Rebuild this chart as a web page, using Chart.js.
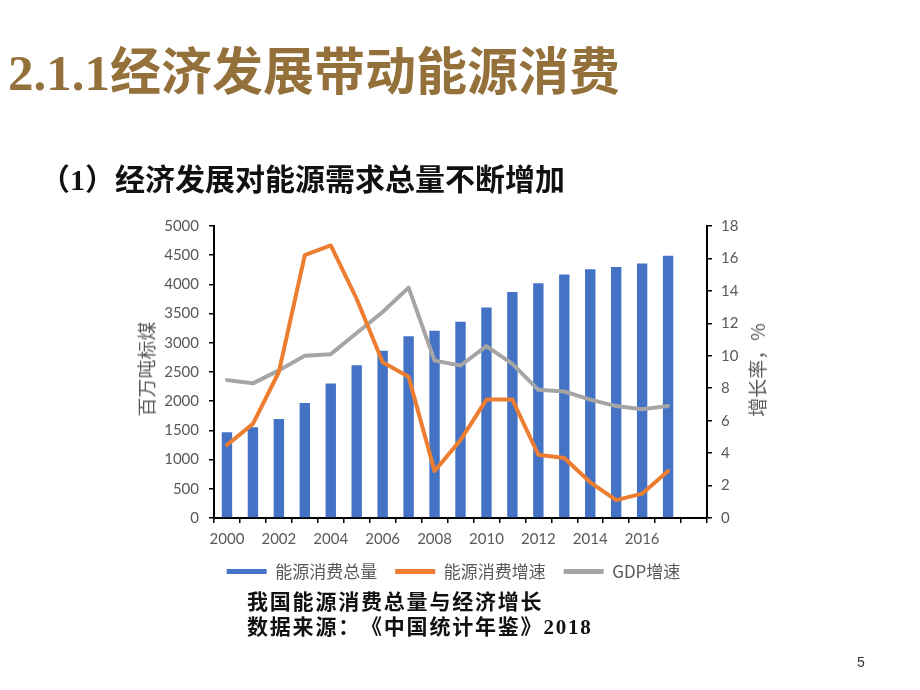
<!DOCTYPE html>
<html>
<head>
<meta charset="utf-8">
<script src="https://cdn.jsdelivr.net/npm/chart.js@4.4.1/dist/chart.umd.min.js"></script>
<style>
  html, body { margin: 0; padding: 0; background: #fff; }
  #page { position: relative; width: 920px; height: 690px; overflow: hidden; background: #fff; text-spacing-trim: space-all; }
  #cv { position: absolute; left: 0; top: 0; }
  .txt { position: absolute; white-space: nowrap; }
  #title { left: 8px; top: 45px; font: 700 51px 'Liberation Serif', 'Noto Sans CJK SC', serif; color: #94703A; line-height: 56px; }
  #sub { left: 40px; top: 162px; font: 700 30px 'Liberation Serif', 'Noto Sans CJK SC', serif; color: #111; line-height: 36px; }
  .cap { left: 247px; font: 700 21px 'Liberation Serif', 'Noto Sans CJK SC', serif; color: #111; letter-spacing: 1.8px; line-height: 25px; }
  #cap1 { top: 590px; }
  #cap2 { top: 615px; }
  .axt { font: 400 19px 'Noto Sans CJK SC', sans-serif; color: #595959; transform: translate(-50%, -50%) rotate(-90deg); line-height: 22px; }
  #ylt { left: 146px; top: 369px; }
  #yrt { left: 757px; top: 370px; }
  #pno { left: 857px; top: 654px; font: 400 14px 'Liberation Sans', sans-serif; color: #333; }
</style>
</head>
<body>
<div id="page">
  <canvas id="cv" width="920" height="690"></canvas>
  <div class="txt" id="title">2.1.1经济发展带动能源消费</div>
  <div class="txt" id="sub">（1）经济发展对能源需求总量不断增加</div>
  <div class="txt axt" id="ylt">百万吨标煤</div>
  <div class="txt axt" id="yrt">增长率，%</div>
  <div class="txt cap" id="cap1">我国能源消费总量与经济增长</div>
  <div class="txt cap" id="cap2">数据来源：《中国统计年鉴》2018</div>
  <div class="txt" id="pno">5</div>
</div>
<script>
// Categories (last slot is an empty category on the axis)
const years = ['2000','2001','2002','2003','2004','2005','2006','2007','2008','2009',
               '2010','2011','2012','2013','2014','2015','2016','2017',''];
// 能源消费总量 (百万吨标煤)
const energyTotal = [1470, 1555, 1696, 1971, 2303, 2614, 2865, 3114, 3206, 3361,
                     3606, 3870, 4021, 4169, 4258, 4299, 4358, 4490];
// 能源消费增速 (%)
const energyGrowth = [4.5, 5.8, 9.0, 16.2, 16.8, 13.5, 9.6, 8.7, 2.9, 4.8,
                      7.3, 7.3, 3.9, 3.7, 2.2, 1.1, 1.5, 2.9];
// GDP增速 (%)
const gdpGrowth = [8.5, 8.3, 9.1, 10.0, 10.1, 11.4, 12.7, 14.2, 9.7, 9.4,
                   10.6, 9.5, 7.9, 7.8, 7.3, 6.9, 6.7, 6.9];
const seriesNames = ['能源消费总量', '能源消费增速', 'GDP增速'];
const leftTicks = { min: 0, max: 5000, step: 500 };
const rightTicks = { min: 0, max: 18, step: 2 };

const tickFont = { family: "Lato, 'Open Sans', sans-serif", size: 15 };
const tickColor = '#595959';

new Chart(document.getElementById('cv'), {
  data: {
    labels: years,
    datasets: [
      { type: 'bar', label: seriesNames[0], data: energyTotal, yAxisID: 'y',
        backgroundColor: '#4472C4', borderWidth: 0, barPercentage: 0.4, categoryPercentage: 1, order: 3 },
      { type: 'line', label: seriesNames[1], data: energyGrowth, yAxisID: 'y1',
        borderColor: '#ED7D31', backgroundColor: '#ED7D31', borderWidth: 4, pointRadius: 0,
        tension: 0, fill: false, order: 1, borderJoinStyle: 'round', borderCapStyle: 'round' },
      { type: 'line', label: seriesNames[2], data: gdpGrowth, yAxisID: 'y1',
        borderColor: '#A5A5A5', backgroundColor: '#A5A5A5', borderWidth: 4, pointRadius: 0,
        tension: 0, fill: false, order: 2, borderJoinStyle: 'round', borderCapStyle: 'round' }
    ]
  },
  options: {
    responsive: false,
    animation: false,
    layout: { padding: { left: 160, right: 173, top: 226, bottom: 100 } },
    plugins: {
      tooltip: { enabled: false },
      legend: {
        position: 'bottom',
        labels: {
          boxWidth: 40, boxHeight: 5, padding: 18,
          color: '#595959',
          font: { family: "'Noto Sans CJK SC', sans-serif", size: 17 },
          generateLabels: (chart) => chart.data.datasets.map((ds, i) => ({
            text: ds.label, fillStyle: ds.backgroundColor, strokeStyle: ds.backgroundColor,
            lineWidth: 0, hidden: false, datasetIndex: i, fontColor: '#595959'
          }))
        }
      }
    },
    scales: {
      x: {
        type: 'category',
        offset: true,
        grid: { display: true, offset: true, drawOnChartArea: false, drawTicks: true, tickLength: 5, color: '#000', lineWidth: 1.5 },
        border: { display: true, color: '#000', width: 2 },
        ticks: {
          autoSkip: false, maxRotation: 0, minRotation: 0, padding: 7,
          color: tickColor, font: tickFont,
          callback: (v, i) => (i % 2 === 0 ? years[i] : '')
        },
        afterFit: (s) => { s.height = 27; }
      },
      y: {
        position: 'left',
        min: leftTicks.min, max: leftTicks.max,
        grid: { display: true, drawOnChartArea: false, drawTicks: true, tickLength: 5, color: '#000', lineWidth: 1.5 },
        border: { display: true, color: '#000', width: 2 },
        ticks: { stepSize: leftTicks.step, padding: 10, color: tickColor, font: tickFont,
                 callback: (v) => String(v) },
        afterFit: (s) => { s.width = 54; }
      },
      y1: {
        position: 'right',
        min: rightTicks.min, max: rightTicks.max,
        grid: { display: true, drawOnChartArea: false, drawTicks: true, tickLength: 5, color: '#000', lineWidth: 1.5 },
        border: { display: true, color: '#000', width: 2 },
        ticks: { stepSize: rightTicks.step, padding: 9, color: tickColor, font: tickFont },
        afterFit: (s) => { s.width = 40; }
      }
    }
  }
});
</script>
</body>
</html>
